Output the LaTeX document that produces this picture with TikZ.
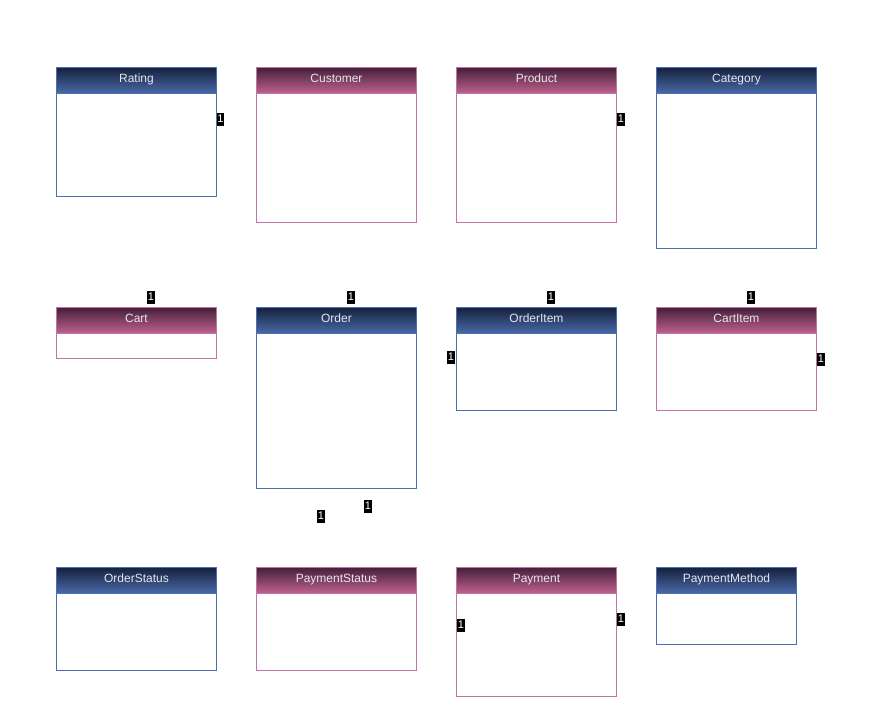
\documentclass[tikz,border=0pt]{standalone}
\usepackage{fontspec}
\setmainfont{Liberation Sans}
\definecolor{bluetop}{HTML}{16213D}
\definecolor{bluebot}{HTML}{4A6AA8}
\definecolor{blueline}{HTML}{4A70B4}
\definecolor{pinktop}{HTML}{45203A}
\definecolor{pinkbot}{HTML}{C0628F}
\definecolor{pinkline}{HTML}{C274A6}
\definecolor{hdrtext}{HTML}{E6E6EE}
\begin{document}
\begin{tikzpicture}[x=1pt,y=-1pt,
  body/.style={draw, line width=0.9pt, fill=white, anchor=north west, minimum width=160pt, inner sep=0pt},
  bbody/.style={body, draw=blueline},
  pbody/.style={body, draw=pinkline},
  hdr/.style={anchor=north west, minimum width=160pt, minimum height=26pt, inner sep=0pt, text=hdrtext, font=\fontsize{12}{14}\selectfont, text height=8.5pt, text depth=3.5pt},
  bhdr/.style={hdr, top color=bluetop, bottom color=bluebot, draw=blueline, line width=0.9pt},
  phdr/.style={hdr, top color=pinktop, bottom color=pinkbot, draw=pinkline, line width=0.9pt},
  mult/.style={fill=black, text=white, inner xsep=0.8pt, inner ysep=1pt, minimum width=7pt, minimum height=13pt, font=\fontsize{11}{12}\selectfont}
]
\useasboundingbox (0,0) rectangle (885,710);
% Row 1
\node[bbody, minimum height=129pt] (rating) at (56,67) {};
\node[bhdr] (ratingh) at (56,67) {Rating};
\node[pbody, minimum height=155pt] (customer) at (256,67) {};
\node[phdr] (customerh) at (256,67) {Customer};
\node[pbody, minimum height=155pt] (product) at (456,67) {};
\node[phdr] (producth) at (456,67) {Product};
\node[bbody, minimum height=181pt] (category) at (656,67) {};
\node[bhdr] (categoryh) at (656,67) {Category};
% Row 2
\node[pbody, minimum height=51pt] (cart) at (56,307) {};
\node[phdr] (carth) at (56,307) {Cart};
\node[bbody, minimum height=181pt] (order) at (256,307) {};
\node[bhdr] (orderh) at (256,307) {Order};
\node[bbody, minimum height=103pt] (orderitem) at (456,307) {};
\node[bhdr] (orderitemh) at (456,307) {OrderItem};
\node[pbody, minimum height=103pt] (cartitem) at (656,307) {};
\node[phdr] (cartitemh) at (656,307) {CartItem};
% Row 3
\node[bbody, minimum height=103pt] (orderstatus) at (56,567) {};
\node[bhdr] (orderstatush) at (56,567) {OrderStatus};
\node[pbody, minimum height=103pt] (paymentstatus) at (256,567) {};
\node[phdr] (paymentstatush) at (256,567) {PaymentStatus};
\node[pbody, minimum height=129pt] (payment) at (456,567) {};
\node[phdr] (paymenth) at (456,567) {Payment};
\node[bbody, minimum height=77pt, minimum width=140pt] (paymentmethod) at (656,567) {};
\node[bhdr, minimum width=140pt] (paymentmethodh) at (656,567) {PaymentMethod};
% multiplicity labels
\node[mult] (m1) at (220.5,119) {1};
\node[mult] (m2) at (621,119) {1};
\node[mult] (m3) at (151,297) {1};
\node[mult] (m4) at (351,297) {1};
\node[mult] (m5) at (551,297) {1};
\node[mult] (m6) at (751,297) {1};
\node[mult] (m7) at (451,357) {1};
\node[mult] (m8) at (821,359) {1};
\node[mult] (m9) at (368,506) {1};
\node[mult] (m10) at (321,516) {1};
\node[mult] (m11) at (461,625) {1};
\node[mult] (m12) at (621,619) {1};
\end{tikzpicture}
\end{document}
